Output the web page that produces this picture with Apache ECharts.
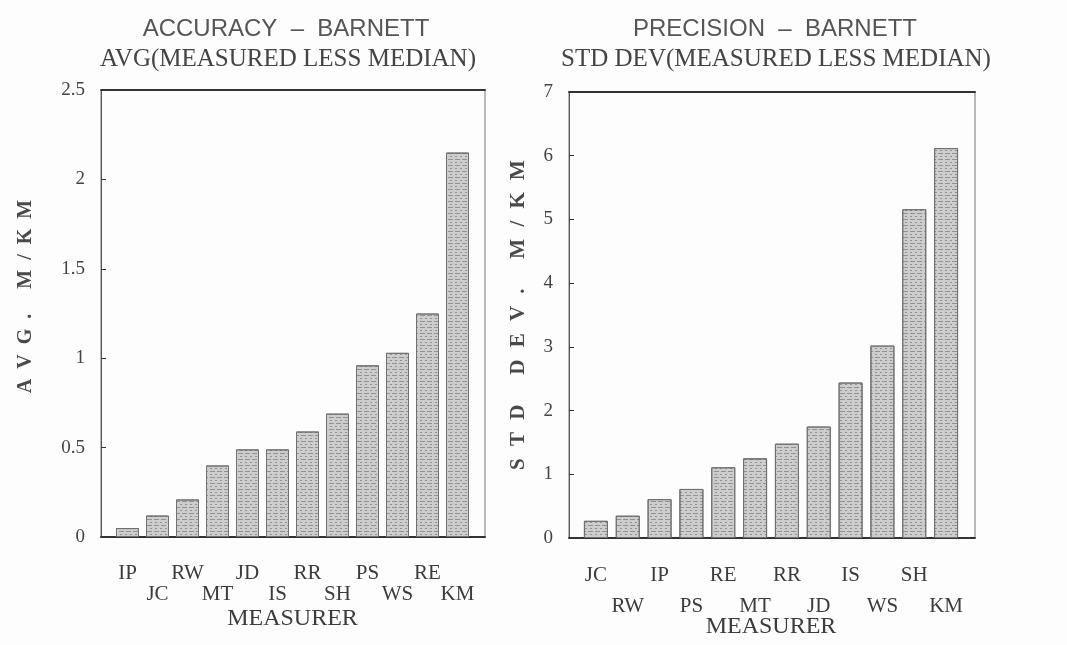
<!DOCTYPE html>
<html>
<head>
<meta charset="utf-8">
<script src="https://cdn.jsdelivr.net/npm/echarts@6/dist/echarts.min.js"></script>
<style>
  html, body { margin: 0; padding: 0; background: #fdfdfd; }
  #chart { width: 1067px; height: 645px; }
</style>
</head>
<body>
<div id="chart"></div>
<script>
// accuracy chart
const accNames = ["IP", "JC", "RW", "MT", "JD", "IS", "RR", "SH", "PS", "WS", "RE", "KM"];
const accValues = [0.05, 0.12, 0.21, 0.40, 0.49, 0.49, 0.59, 0.69, 0.96, 1.03, 1.25, 2.15];
const accAxis = { min: 0, max: 2.5, interval: 0.5 };

// precision chart
const precNames = ["JC", "RW", "IP", "PS", "RE", "MT", "RR", "JD", "IS", "WS", "SH", "KM"];
const precValues = [0.27, 0.35, 0.61, 0.77, 1.11, 1.25, 1.48, 1.75, 2.44, 3.02, 5.16, 6.12];
const precAxis = { min: 0, max: 7, interval: 1 };

const serif = "'Liberation Serif', 'DejaVu Serif', serif";
const sans = "'Liberation Sans', Arial, sans-serif";
const ink = "#3c3c3c";

const spread = (s, gap) => s.split("").join(gap);

const barStyle = {
  color: "#cdcdcd",
  borderColor: "#707070",
  borderWidth: 1,
  decal: {
    symbol: "rect",
    symbolSize: 1,
    dashArrayX: [[5, 2], [2, 3]],
    dashArrayY: [1, 2],
    rotation: 0,
    color: "rgba(50,50,50,0.38)"
  }
};

// frame axes: only lines, used to draw the box round each plot
const frameX = (gridIndex, position, width) => ({
  type: "value", gridIndex, position, min: 0, max: 1,
  axisLine: { show: true, lineStyle: { color: "#333", width } },
  axisTick: { show: false }, axisLabel: { show: false }, splitLine: { show: false }
});

const catAxis = (gridIndex, names, lineHeight, margin, nameGap) => ({
  type: "category", gridIndex, data: names,
  axisLine: { show: false }, axisTick: { show: false },
  axisLabel: {
    interval: 0, margin, fontFamily: serif, fontSize: 21, color: ink, lineHeight,
    formatter: (v, i) => (i % 2 ? "\n" + v : v)
  },
  name: "MEASURER", nameLocation: "middle", nameGap, nameMoveOverlap: false,
  nameTextStyle: { fontFamily: serif, fontSize: 24, color: ink }
});

const valAxis = (gridIndex, ax, name, nameGap, namePad, nameSize) => ({
  type: "value", gridIndex, min: ax.min, max: ax.max, interval: ax.interval,
  axisLine: { show: true, lineStyle: { color: "#555", width: 1 } },
  axisTick: { show: true, inside: true, length: 5, lineStyle: { color: "#333" } },
  axisLabel: { margin: 16, fontFamily: serif, fontSize: 19, color: "#444" },
  splitLine: { show: false },
  name, nameLocation: "middle", nameGap, nameRotate: 90, nameMoveOverlap: false,
  nameTextStyle: { fontFamily: serif, fontSize: nameSize, fontWeight: "bold", color: "#4a4a4a", padding: namePad }
});

const hiddenVal = (gridIndex, ax) => ({
  type: "value", gridIndex, min: ax.min, max: ax.max, show: false
});

const chart = echarts.init(document.getElementById("chart"));
chart.setOption({
  animation: false,
  backgroundColor: "#fdfdfd",
  title: [
    { text: "ACCURACY  \u2013  BARNETT", left: 281, top: 12, textAlign: "center",
      textStyle: { fontFamily: sans, fontSize: 24, fontWeight: "normal", color: "#555" } },
    { text: "AVG(MEASURED LESS MEDIAN)", left: 283, top: 42, textAlign: "center",
      textStyle: { fontFamily: serif, fontSize: 25, fontWeight: "normal", color: "#444" } },
    { text: "PRECISION  \u2013  BARNETT", left: 770, top: 12, textAlign: "center",
      textStyle: { fontFamily: sans, fontSize: 24, fontWeight: "normal", color: "#555" } },
    { text: "STD DEV(MEASURED LESS MEDIAN)", left: 771, top: 42, textAlign: "center",
      textStyle: { fontFamily: serif, fontSize: 25, fontWeight: "normal", color: "#444" } }
  ],
  grid: [
    { left: 101, top: 90, width: 384, height: 447, show: true, borderColor: "#777", borderWidth: 1, outerBoundsMode: "none" },
    { left: 112.5, top: 90, width: 360, height: 447, outerBoundsMode: "none" },
    { left: 569, top: 92, width: 406, height: 446, show: true, borderColor: "#777", borderWidth: 1, outerBoundsMode: "none" },
    { left: 580, top: 92, width: 382, height: 446, outerBoundsMode: "none" }
  ],
  xAxis: [
    frameX(0, "bottom", 2),
    frameX(0, "top", 2),
    catAxis(1, accNames, 21, 26, 70),
    frameX(2, "bottom", 2),
    frameX(2, "top", 2),
    catAxis(3, precNames, 31, 22, 77)
  ],
  yAxis: [
    valAxis(0, accAxis, spread("AVG. M/KM", "\u2002"), 65, [0, 0, 0, 34], 20),
    hiddenVal(1, accAxis),
    valAxis(2, precAxis, spread("STD DEV. M/KM", "\u2002\u200A"), 40, 0, 21),
    hiddenVal(3, precAxis)
  ],
  series: [
    { type: "bar", xAxisIndex: 2, yAxisIndex: 1, data: accValues, barWidth: 23, itemStyle: barStyle },
    { type: "bar", xAxisIndex: 5, yAxisIndex: 3, data: precValues, barWidth: 24, itemStyle: barStyle }
  ]
});
</script>
</body>
</html>
